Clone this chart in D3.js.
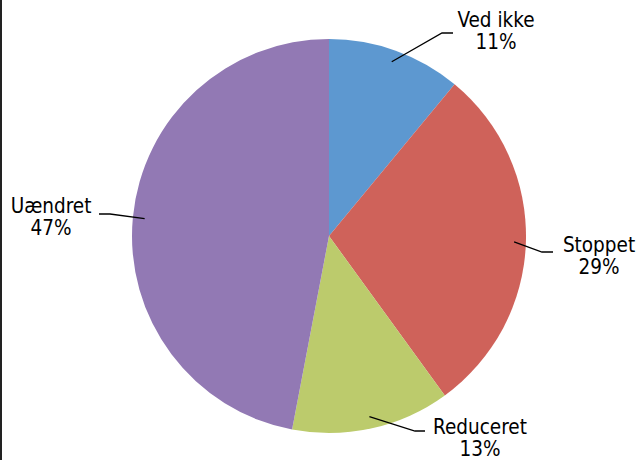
<!DOCTYPE html>
<html>
<head>
<meta charset="utf-8">
<script src="https://cdn.jsdelivr.net/npm/d3@7"></script>
<style>
  html, body { margin: 0; padding: 0; background: #fff; }
  svg { display: block; }
  .lbl { font-family: "DejaVu Sans Condensed", "DejaVu Sans", sans-serif; font-stretch: condensed; font-size: 20.5px; fill: #000; }
</style>
</head>
<body>
<div id="chart"></div>
<script>
// data
var categories = ["Ved ikke", "Stoppet", "Reduceret", "Uændret"]
var values = [11, 29, 13, 47]
var colors = ["#5d98d0", "#cf625a", "#bccb6c", "#9279b4"]

// label placement, offsets from pie centre: elbow of leader, text anchor
var labelLayout = {
    "Ved ikke":  { elbow: [113, -203], end: [124, -203], text: [167, -209] },
    "Stoppet":   { elbow: [213, 16],   end: [224, 16],   text: [270, 16] },
    "Reduceret": { elbow: [86, 195],   end: [96, 195],   text: [151, 198] },
    "Uændret":   { elbow: [-219, -22], end: [-230, -22], text: [-278, -23] }
}

var width = 640,
    height = 460,
    cx = 329,
    cy = 236,
    radius = 197;

var svg = d3.select("#chart")
    .append("svg")
    .attr("width", width)
    .attr("height", height)

// left frame edge
svg.append("line")
    .attr("x1", 1).attr("x2", 1)
    .attr("y1", 0).attr("y2", height)
    .attr("stroke", "#222")
    .attr("stroke-width", 2)

var g = svg.append("g")
    .attr("transform", "translate(" + cx + "," + cy + ")")

var table = categories.map(function (c, i) {
    return { name: c, value: values[i], color: colors[i] }
})

var pie = d3.pie()
    .value(function (d) { return d.value })
    .sort(null)

var arc = d3.arc().innerRadius(0).outerRadius(radius)
var inner = d3.arc().innerRadius(radius * 0.94).outerRadius(radius * 0.94)

var arcs = pie(table)

g.selectAll("path.slice")
    .data(arcs)
    .enter()
    .append("path")
    .attr("class", "slice")
    .attr("d", arc)
    .attr("fill", function (d) { return d.data.color })

// leader lines
g.selectAll("polyline")
    .data(arcs)
    .enter()
    .append("polyline")
    .attr("points", function (d) {
        var L = labelLayout[d.data.name]
        return [inner.centroid(d), L.elbow, L.end]
    })
    .attr("fill", "none")
    .attr("stroke", "#000")
    .attr("stroke-width", 1.3)

// labels
var lbl = g.selectAll("text.lbl")
    .data(arcs)
    .enter()
    .append("text")
    .attr("class", "lbl")
    .attr("text-anchor", "middle")
    .attr("transform", function (d) {
        var L = labelLayout[d.data.name]
        return "translate(" + L.text[0] + "," + L.text[1] + ")"
    })

lbl.append("tspan")
    .attr("x", 0)
    .text(function (d) { return d.data.name })

lbl.append("tspan")
    .attr("x", 0)
    .attr("dy", 22)
    .text(function (d) { return d.data.value + "%" })
</script>
</body>
</html>
